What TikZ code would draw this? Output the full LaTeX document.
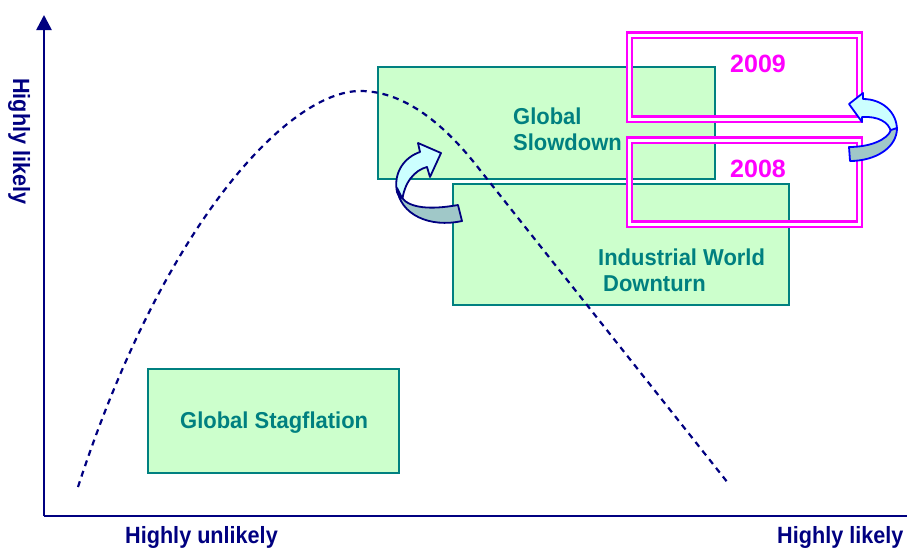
\documentclass[tikz,border=0pt]{standalone}
\usepackage{fontspec}
\setmainfont{Liberation Sans}
\newfontfamily\axisfont{Liberation Sans}[FakeStretch=0.92]
\newfontfamily\scenfont{Liberation Sans}[FakeStretch=0.955]
\usetikzlibrary{arrows.meta}

\definecolor{axisnavy}{RGB}{0,0,128}
\definecolor{scenfill}{RGB}{204,255,204}
\definecolor{scenline}{RGB}{0,128,128}
\definecolor{yearpink}{RGB}{255,0,255}
\definecolor{curllight}{RGB}{204,255,255}
\definecolor{curldark}{RGB}{160,200,200}

\begin{document}
\begin{tikzpicture}
  [x=1pt,y=-1pt,
   axis/.style={draw=axisnavy,line width=2.6pt,-{Triangle[length=15pt,width=15pt]}},
   axislabel/.style={inner sep=0,text=axisnavy,font=\axisfont\bfseries\fontsize{23.5}{26}\selectfont},
   scenario/.style={rectangle,draw=scenline,fill=scenfill,line width=2.6pt,inner sep=0},
   scenlabel/.style={inner sep=0,align=left,text=scenline,font=\scenfont\bfseries\fontsize{23}{26}\selectfont},
   yearbox/.style={rectangle,draw=yearpink,double=white,double distance=3pt,line width=2.4pt,
     inner sep=0,minimum width=230pt,minimum height=84pt},
   yearlabel/.style={inner sep=0,text=yearpink,font=\bfseries\fontsize{25}{28}\selectfont}]
  \useasboundingbox (0,0) rectangle (907,547);

  % axes
  \coordinate (origin) at (44,516);
  \coordinate (ytop) at (44,15);
  \coordinate (xend) at (922,516);
  \draw[axis] (origin) -- (ytop);
  \draw[axis] (origin) -- (xend);
  \node[axislabel,rotate=-90,anchor=base west] (ylab) at (13,78) {Highly likely};
  \node[axislabel,anchor=base west] (xlow) at (125,543) {Highly unlikely};
  \node[axislabel,anchor=base west] (xhigh) at (777,543) {Highly likely};

  % scenarios
  \node[scenario,minimum width=337pt,minimum height=112pt] (slowdown) at (546.5,123) {};
  \node[scenario,minimum width=336pt,minimum height=121pt] (downturn) at (621,244.5) {};
  \node[scenario,minimum width=251pt,minimum height=104pt] (stagflation) at (273.5,421) {};
  \node[scenlabel,anchor=base west] (slowdowntxt) at (513,150) {Global\\Slowdown};
  \node[scenlabel,anchor=base west] (downturntxt) at (598,291) {Industrial World\\\hspace{5pt}Downturn};
  \node[scenlabel,anchor=base west] (stagflationtxt) at (180,428) {Global Stagflation};

  % years
  \foreach \yr/\y in {2009/77,2008/182}{
    \node[yearbox] (box\yr) at (744.5,\y) {};
    \node[yearlabel,anchor=base west] (lab\yr) at (730,\y-5) {\yr};
  }

  % likelihood curve
  \coordinate (curvestart) at (78,487);
  \coordinate (curvepeak) at (360,91);
  \coordinate (curvebend) at (480,170);
  \coordinate (curveend) at (728,483);
  \draw[axisnavy,line width=2.2pt,dash pattern=on 6pt off 5pt]
    (curvestart) .. controls (165,220) and (290,91) .. (curvepeak)
    .. controls (400,91) and (440,118) .. (curvebend) -- (curveend);

  % curled arrow into the slowdown
  \filldraw[draw=axisnavy,fill=curllight,line width=1.8pt,line join=round]
    (397,192) .. controls (393,172) and (405,157) .. (420,152) -- (418,143) -- (441,153)
    -- (430,177) -- (427,167) .. controls (415,170) and (404,182) .. (402,202) -- cycle;
  \filldraw[draw=axisnavy,fill=curldark,line width=1.8pt,line join=round]
    (397,188) .. controls (400,215) and (430,228) .. (462,221) -- (458,205)
    .. controls (430,210) and (410,208) .. (402,198) -- cycle;

  % curled arrow from 2008 to 2009
  \filldraw[draw=blue,fill=curllight,line width=1.8pt,line join=round]
    (863,99) .. controls (882,99) and (897,112) .. (897,130) -- (891,132)
    .. controls (889,122) and (878,116) .. (862,117) -- (862,122) -- (849,104) -- (863,93) -- cycle;
  \filldraw[draw=blue,fill=curldark,line width=1.8pt,line join=round]
    (897,128) .. controls (897,148) and (875,161) .. (850,161) -- (849,147)
    .. controls (870,147) and (887,140) .. (891,130) -- cycle;
\end{tikzpicture}
\end{document}
